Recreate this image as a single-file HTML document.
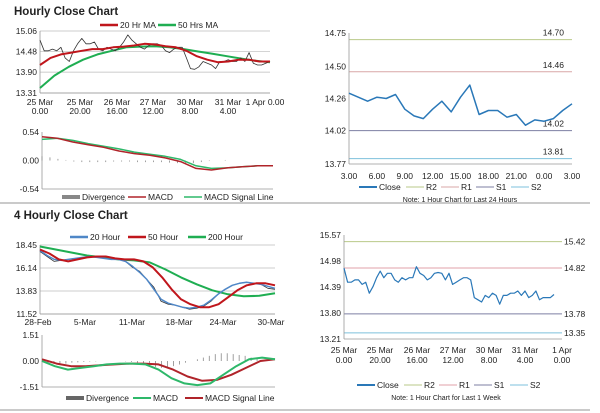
<!DOCTYPE html>
<html><head><meta charset="utf-8">
<style>
html,body{margin:0;padding:0;background:#fff;}
svg{display:block;font-family:"Liberation Sans",Arial,sans-serif;}
text{fill:#222;}
</style></head>
<body>
<svg id="c" width="600" height="413" viewBox="0 0 600 413">
<text x="14" y="15" font-size="11.5" font-weight="bold">Hourly Close Chart</text>
<text x="14" y="219" font-size="11.5" font-weight="bold">4 Hourly Close Chart</text>
<line x1="0" y1="203" x2="590" y2="203" stroke="#aaa" stroke-width="1.2"/>
<line x1="0" y1="410" x2="590" y2="410" stroke="#aaa" stroke-width="1.2"/>
</svg>
<script>
// ---------- data ----------
const hCloseVals=[14.8,14.5,14.5,14.55,14.5,14.6,14.3,14.2,14.5,14.7,14.85,14.7,14.7,14.75,14.55,14.5,14.6,14.55,14.5,14.6,14.75,14.95,14.8,14.7,14.6,14.55,14.65,14.7,14.7,14.65,14.5,14.45,14.55,14.6,14.6,14.3,14.0,13.98,14.05,14.2,14.15,14.1,14.0,14.2,14.2,14.25,14.2,14.2,14.3,14.2,14.45,14.15,14.1,14.1,14.15,14.2];
const hMa20Vals=[14.1,14.3,14.4,14.45,14.5,14.55,14.55,14.6,14.62,14.65,14.7,14.68,14.63,14.6,14.5,14.35,14.25,14.18,14.2,14.25,14.25,14.2,14.2];
const hMa50Vals=[13.45,13.8,14.05,14.25,14.4,14.5,14.6,14.62,14.63,14.6,14.55,14.48,14.42,14.35,14.28,14.22,14.18];
const hTickVals=[15.06,14.48,13.90,13.31];
const hDateLabels=[["25 Mar","0.00"],["25 Mar","20.00"],["26 Mar","16.00"],["27 Mar","12.00"],["30 Mar","8.00"],["31 Mar","4.00"],["1 Apr 0.00",""]];
const hMacdVals=[0.45,0.42,0.35,0.30,0.25,0.18,0.13,0.10,0.05,-0.02,-0.15,-0.18,-0.14,-0.12,-0.10,-0.10];
const hSigVals=[0.40,0.42,0.38,0.32,0.27,0.22,0.16,0.12,0.08,0.02,-0.10,-0.15,-0.14,-0.12,-0.10,-0.10];
const hDivVals=[0.08,0.06,0.03,0.01,-0.02,-0.03,-0.03,-0.03,-0.03,-0.02,-0.02,-0.02,-0.03,-0.03,-0.03,-0.03,-0.04,-0.05,-0.06,-0.05,-0.03,-0.01,0,0.01,0,0,0,0,0,0];
const hMacdTicks=[0.54,0.00,-0.54];

const dCloseVals=[14.30,14.27,14.24,14.27,14.26,14.29,14.18,14.13,14.11,14.18,14.24,14.16,14.27,14.36,14.14,14.17,14.17,14.12,14.14,14.06,14.10,14.09,14.11,14.17,14.22];
const dLevels=[14.70,14.46,14.02,13.81];
const dTickVals=[14.75,14.50,14.26,14.02,13.77];
const dXLabels=["3.00","6.00","9.00","12.00","15.00","18.00","21.00","0.00","3.00"];

const fCloseVals=[17.8,17.3,16.8,16.9,17.0,17.1,17.2,17.3,17.3,17.1,17.0,17.0,16.8,16.2,15.8,15.0,14.2,12.8,12.5,12.4,12.2,12.0,12.1,12.3,12.8,13.5,14.0,14.4,14.6,14.7,14.6,14.5,14.1,14.0];
const f20Vals=[17.9,17.4,17.0,16.9,17.0,17.1,17.2,17.3,17.2,17.1,17.0,17.0,16.8,16.3,15.7,15.0,14.0,13.0,12.6,12.4,12.2,12.1,12.2,12.4,12.9,13.5,14.0,14.4,14.6,14.7,14.6,14.5,14.3,14.1];
const f50Vals=[18.0,17.6,17.0,16.8,17.0,17.2,17.3,17.3,17.1,17.0,17.0,16.8,16.2,15.2,14.0,13.0,12.5,12.2,12.2,12.5,13.2,13.9,14.4,14.6,14.6,14.4];
const f200Vals=[18.3,18.0,17.7,17.4,17.2,17.0,16.9,16.7,16.0,15.2,14.5,13.9,13.5,13.3,13.35,13.6];
const fTickVals=[18.45,16.14,13.83,11.52];
const fDateLabels=["28-Feb","5-Mar","11-Mar","18-Mar","24-Mar","30-Mar"];
const fMacdVals=[0.0,-0.3,-0.5,-0.4,-0.3,-0.2,-0.15,-0.15,-0.2,-0.5,-1.0,-1.3,-1.4,-1.3,-0.8,-0.3,0.1,0.2,0.1];
const fSigVals=[0.1,-0.15,-0.3,-0.3,-0.25,-0.2,-0.15,-0.15,-0.2,-0.5,-0.9,-1.15,-1.1,-0.8,-0.4,0.0,0.1];
const fDivVals=[-0.05,-0.1,-0.15,-0.18,-0.15,-0.1,-0.08,-0.05,-0.03,-0.02,0,0,0,0,-0.02,-0.05,-0.1,-0.2,-0.3,-0.35,-0.4,-0.35,-0.3,-0.2,-0.1,0,0.1,0.2,0.3,0.4,0.45,0.45,0.4,0.35,0.3,0.2,0.12,0.05,0.02,0];
const fMacdTicks=[1.51,0.00,-1.51];

const wCloseVals=[14.82,14.5,14.5,14.55,14.55,14.45,14.5,14.25,14.4,14.6,14.75,14.6,14.7,14.7,14.55,14.5,14.6,14.55,14.6,14.6,14.85,14.7,14.65,14.55,14.6,14.7,14.72,14.7,14.55,14.7,14.45,14.5,14.55,14.6,14.6,14.55,14.15,14.1,14.05,14.2,14.15,14.25,14.2,14.0,14.2,14.2,14.25,14.25,14.3,14.2,14.3,14.15,14.2,14.3,14.1,14.15,14.15,14.15,14.22];
const wLevels=[15.42,14.82,13.78,13.35];
const wTickVals=[15.57,14.98,14.39,13.80,13.21];

// ---------- helpers ----------
const svg=document.getElementById('c');
const NS='http://www.w3.org/2000/svg';
function mk(tag,attrs,parent){const e=document.createElementNS(NS,tag);for(const k in attrs)e.setAttribute(k,attrs[k]);(parent||svg).appendChild(e);return e;}
function txt(x,y,s,size,anchor,name){const t=mk('text',{x:x,y:y,'font-size':size||8.5,'text-anchor':anchor||'start'});t.textContent=s;


return t;}
function scale(d0,d1,r0,r1){return v=>r0+(v-d0)/(d1-d0)*(r1-r0);}
function series(vals,x0,x1,ys,color,w,name){
  const xs=scale(0,vals.length-1,x0,x1);
  const p=mk('polyline',{points:vals.map((v,i)=>xs(i).toFixed(1)+','+ys(v).toFixed(1)).join(' '),fill:'none',stroke:color,'stroke-width':w,'stroke-linejoin':'round'});
  
  
  return p;}
function frame(x0,x1,y0,y1,name){
  const a=mk('line',{x1:x0,y1:y0,x2:x0,y2:y1,stroke:'#999','stroke-width':0.8});
  
  
  const b=mk('line',{x1:x0,y1:y1,x2:x1,y2:y1,stroke:'#999','stroke-width':0.8});
  
  }
function grid(ticks,x0,x1,ys,name,lines){
  ticks.forEach(t=>{const y=ys(t);
    if(lines){const g=mk('line',{x1:x0,y1:y,x2:x1,y2:y,stroke:'#bbb','stroke-width':0.7});
      
      }
    txt(x0-3,y+3,t.toFixed(2),8.5,'end',name+'-tick-label');});}
function legendItem(x,y,color,label,w,name){
  const l=mk('line',{x1:x,y1:y-3,x2:x+18,y2:y-3,stroke:color,'stroke-width':w});
  
  
  txt(x+20,y,label,8.5,'start',name+'-label');}
function bars(vals,x0,x1,ys,name){
  const xs=scale(0,vals.length-1,x0,x1);
  vals.forEach((v,i)=>{const r=mk('line',{x1:xs(i),y1:ys(0),x2:xs(i),y2:ys(v),stroke:'#888','stroke-width':0.8});
    
    });}

// ---------- panel 1: hourly ----------
(function(){
  const x0=40,x1=270,ys=scale(13.31,15.06,93,31);
  grid(hTickVals,x0,x1,ys,'hourly-price',true);
  frame(x0,x1,31,93,'hourly-price');
  series(hMa50Vals,x0,x1,ys,'#1fae52',2,'hourly-ma50-line');
  series(hCloseVals,x0,x1,ys,'#333',0.8,'hourly-close-line');
  series(hMa20Vals,x0,x1,ys,'#c0161c',2,'hourly-ma20-line');
  const lx=[40,80,117,153,190,228,265];
  hDateLabels.forEach((d,i)=>{txt(lx[i],105,d[0],8.5,'middle','hourly-x-label');if(d[1])txt(lx[i],114,d[1],8.5,'middle','hourly-x-label');});
  legendItem(100,28,'#c0161c','20 Hr MA',2.5,'legend-ma20');
  legendItem(158,28,'#1fae52','50 Hrs MA',2.5,'legend-ma50');
  const m0=42,m1=273,ym=scale(-0.54,0.54,189,132);
  grid(hMacdTicks,m0,m1,ym,'hourly-macd',false);
  frame(m0,m1,132,189,'hourly-macd');
  bars(hDivVals,m0,m1,ym,'hourly-divergence-bar');
  series(hSigVals,m0,m1,ym,'#2eb86a',1.5,'hourly-signal-line');
  series(hMacdVals,m0,m1,ym,'#b0242a',1.5,'hourly-macd-line');
  legendItem(62,200,'#888','Divergence',4,'legend-hourly-divergence');
  legendItem(128,200,'#b0242a','MACD',1.5,'legend-hourly-macd');
  legendItem(184,200,'#2eb86a','MACD Signal Line',1.5,'legend-hourly-signal');
})();

// ---------- panel 2: last 24 hours ----------
(function(){
  const x0=349,x1=572,ys=scale(13.77,14.75,164,33);
  const cols=['#b9c98a','#d9a7a7','#7d7fa3','#7ec1dc'];
  dLevels.forEach((v,i)=>{const l=mk('line',{x1:x0,y1:ys(v),x2:x1,y2:ys(v),stroke:cols[i],'stroke-width':1});
    
    
    txt(x1-8,ys(v)-4,v.toFixed(2),8.5,'end','day-level-label');});
  grid(dTickVals,x0,x1,ys,'day',false);
  frame(x0,x1,33,164,'day');
  series(dCloseVals,x0,x1,ys,'#2a78b8',1.5,'day-close-line');
  const xs=scale(0,dXLabels.length-1,x0,x1);
  dXLabels.forEach((s,i)=>txt(xs(i),179,s,8.5,'middle','day-x-label'));
  legendItem(359,190,'#2a78b8','Close',2,'legend-day-close');
  legendItem(406,190,cols[0],'R2',1,'legend-day-r2');
  legendItem(441,190,cols[1],'R1',1,'legend-day-r1');
  legendItem(476,190,cols[2],'S1',1,'legend-day-s1');
  legendItem(511,190,cols[3],'S2',1,'legend-day-s2');
  txt(460,202,'Note: 1 Hour Chart for Last 24 Hours',7,'middle','day-note');
})();

// ---------- panel 3: 4 hourly ----------
(function(){
  const x0=40,x1=275,ys=scale(11.52,18.45,314,245);
  grid(fTickVals,x0,x1,ys,'four-price',true);
  frame(x0,x1,245,314,'four-price');
  series(f200Vals,x0,x1,ys,'#1fae52',2,'four-ma200-line');
  series(fCloseVals,x0,x1,ys,'#333',0.8,'four-close-line');
  series(f20Vals,x0,x1,ys,'#4f87c7',1.5,'four-ma20-line');
  series(f50Vals,x0,x1,ys,'#c0161c',2,'four-ma50-line');
  const lx=[38,85,132,179,223,271];
  fDateLabels.forEach((s,i)=>txt(lx[i],325,s,8.5,'middle','four-x-label'));
  legendItem(70,240,'#4f87c7','20 Hour',2.5,'legend-four-20');
  legendItem(128,240,'#c0161c','50 Hour',2.5,'legend-four-50');
  legendItem(188,240,'#1fae52','200 Hour',2.5,'legend-four-200');
  const m0=42,m1=275,ym=scale(-1.51,1.51,387,335);
  grid(fMacdTicks,m0,m1,ym,'four-macd',false);
  frame(m0,m1,335,387,'four-macd');
  bars(fDivVals,m0,m1,ym,'four-divergence-bar');
  series(fSigVals,m0,m1,ym,'#b0242a',2,'four-signal-line');
  series(fMacdVals,m0,m1,ym,'#2eb86a',2,'four-macd-line');
  legendItem(66,401,'#666','Divergence',4,'legend-four-divergence');
  legendItem(133,401,'#2eb86a','MACD',2,'legend-four-macd');
  legendItem(185,401,'#b0242a','MACD Signal Line',2,'legend-four-signal');
})();

// ---------- panel 4: last 1 week ----------
(function(){
  const x0=344,x1=562,ys=scale(13.21,15.57,339,235);
  const cols=['#b9c98a','#e0a0a8','#7d7fa3','#7ec1dc'];
  wLevels.forEach((v,i)=>{const l=mk('line',{x1:x0,y1:ys(v),x2:x1,y2:ys(v),stroke:cols[i],'stroke-width':1});
    
    
    txt(x1+2,ys(v)+3,v.toFixed(2),8.5,'start','week-level-label');});
  grid(wTickVals,x0,x1,ys,'week',false);
  frame(x0,x1,235,339,'week');
  series(wCloseVals,x0,x1-8,ys,'#2a78b8',1.2,'week-close-line');
  const lx=[344,380,417,453,489,525,562];
  hDateLabels.forEach((d,i)=>{const two=d[1]?d:["1 Apr","0.00"];txt(lx[i],353,two[0],8.5,'middle','week-x-label');txt(lx[i],363,two[1],8.5,'middle','week-x-label');});
  legendItem(357,388,'#2a78b8','Close',2,'legend-week-close');
  legendItem(404,388,cols[0],'R2',1,'legend-week-r2');
  legendItem(439,388,cols[1],'R1',1,'legend-week-r1');
  legendItem(474,388,cols[2],'S1',1,'legend-week-s1');
  legendItem(510,388,cols[3],'S2',1,'legend-week-s2');
  txt(446,400,'Note: 1 Hour Chart for Last 1 Week',7,'middle','week-note');
})();
</script>
</body></html>
